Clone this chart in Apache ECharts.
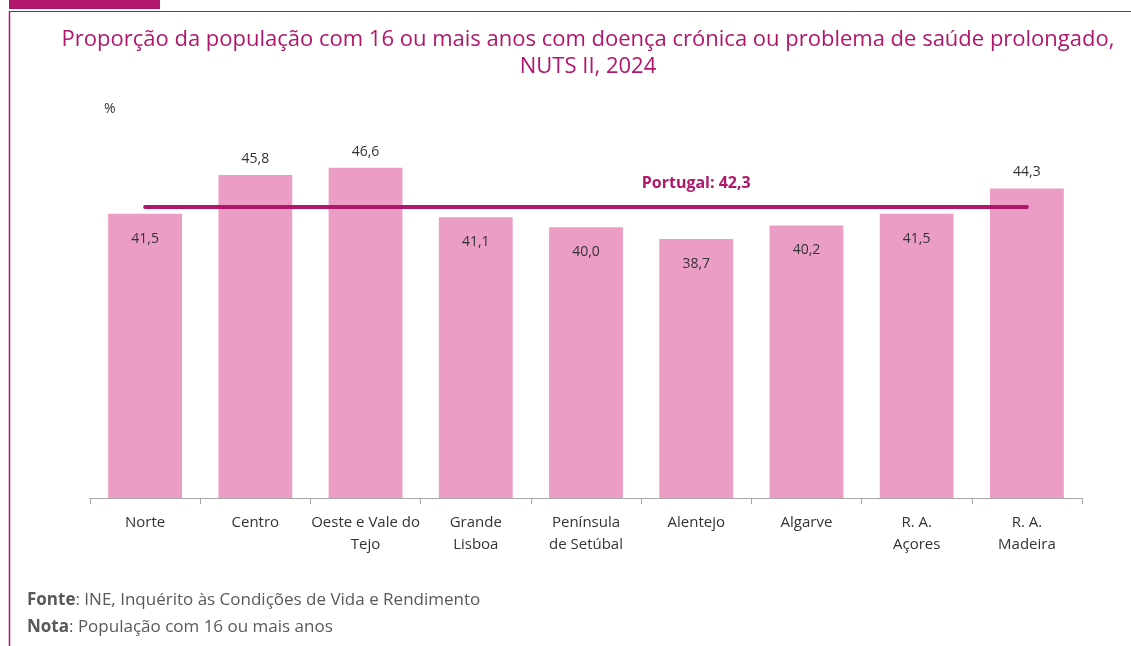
<!DOCTYPE html>
<html>
<head>
<meta charset="utf-8">
<script src="https://cdn.jsdelivr.net/npm/echarts@6/dist/echarts.min.js"></script>
<style>
  html, body { margin: 0; padding: 0; background: #fff; }
  #chart { width: 1131px; height: 646px; }
</style>
</head>
<body>
<div id="chart"></div>
<script>
// dados
var regioes = ['Norte', 'Centro', 'Oeste e Vale do\nTejo', 'Grande\nLisboa', 'Península\nde Setúbal', 'Alentejo', 'Algarve', 'R. A.\nAçores', 'R. A.\nMadeira'];
var valores = [41.5, 45.8, 46.6, 41.1, 40.0, 38.7, 40.2, 41.5, 44.3];
var portugal = 42.3;

var magenta = '#b0176b';
var rosa = '#eb9dc6';
var fonte = '"Open Sans", "Noto Sans", sans-serif';

function fmt(v) { return v.toFixed(1).replace('.', ','); }

// rótulos dentro da barra quando abaixo da linha de Portugal
var dados = valores.map(function (v) {
    var fora = v > portugal;
    return {
        value: v,
        label: {
            position: fora ? 'top' : 'insideTop',
            distance: fora ? 9 : 18
        }
    };
});

var chart = echarts.init(document.getElementById('chart'));
var option = {
    animation: false,
    textStyle: { fontFamily: fonte },
    title: {
        text: 'Proporção da população com 16 ou mais anos com doença crónica ou problema de saúde prolongado,\nNUTS II, 2024',
        left: 583,
        top: 21,
        textAlign: 'center',
        textStyle: {
            color: magenta,
            fontSize: 22,
            fontWeight: 'normal',
            lineHeight: 27,
            fontFamily: fonte
        }
    },
    grid: { left: 90, right: 49, top: 137, bottom: 148 },
    xAxis: {
        type: 'category',
        data: regioes,
        axisLine: { lineStyle: { color: '#a6a6a6', width: 1 } },
        axisTick: { show: true, length: 6, lineStyle: { color: '#a6a6a6' } },
        axisLabel: { color: '#333', fontSize: 15, lineHeight: 22, margin: 14, interval: 0 }
    },
    yAxis: {
        type: 'value',
        min: 10,
        max: 50,
        show: false,
        splitLine: { show: false }
    },
    series: [{
        type: 'bar',
        data: dados,
        barWidth: '67%',
        itemStyle: { color: rosa },
        label: {
            show: true,
            color: '#333',
            fontSize: 14,
            formatter: function (p) { return fmt(p.value); }
        },
        markLine: {
            silent: true,
            symbol: 'none',
            lineStyle: { color: magenta, width: 4, type: 'solid', cap: 'round' },
            label: { show: false },
            data: [[
                { coord: [regioes[0], portugal] },
                { coord: [regioes[regioes.length - 1], portugal] }
            ]]
        },
        markPoint: {
            silent: true,
            symbol: 'circle',
            symbolSize: 0,
            data: [{ coord: [regioes[5], portugal] }],
            label: {
                show: true,
                position: 'top',
                distance: 15,
                color: magenta,
                fontSize: 16,
                fontWeight: 'bold',
                formatter: 'Portugal: ' + fmt(portugal)
            }
        }
    }],
    graphic: [
        { type: 'rect', shape: { x: 9, y: 0, width: 151, height: 9 }, style: { fill: magenta } },
        { type: 'line', shape: { x1: 9.5, y1: 11.5, x2: 1131, y2: 11.5 }, style: { stroke: magenta, lineWidth: 1 } },
        { type: 'line', shape: { x1: 9.5, y1: 11, x2: 9.5, y2: 646 }, style: { stroke: magenta, lineWidth: 1.5 } },
        { type: 'text', left: 104, top: 102, style: { text: '%', fill: '#333', fontSize: 14, fontFamily: fonte } },
        {
            type: 'text', left: 27, top: 587,
            style: {
                text: '{b|Fonte}: INE, Inquérito às Condições de Vida e Rendimento\n{b|Nota}: População com 16 ou mais anos',
                fill: '#595959', fontSize: 17, lineHeight: 27, fontFamily: fonte,
                rich: { b: { fontWeight: 'bold', fill: '#595959', fontSize: 17, fontFamily: fonte } }
            }
        }
    ]
};
chart.setOption(option);
</script>
</body>
</html>
